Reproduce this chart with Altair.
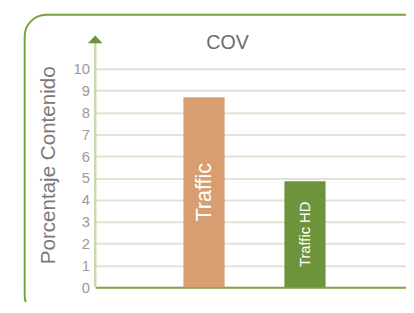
import altair as alt
import pandas as pd

categories = ["Traffic", "Traffic HD"]
values = [8.7, 4.85]
colors = ["#D89E72", "#6E943B"]
y_ticks = list(range(0, 11))
chart_title = "COV"
y_title = "Porcentaje Contenido"

df = pd.DataFrame({"category": categories, "value": values})
one = pd.DataFrame({"k": [0]})

W, H = 317, 223
FONT = "Liberation Sans"

x_scale = alt.Scale(paddingInner=0.592, paddingOuter=0.835, align=0.523)
x_axis = alt.Axis(labels=False, ticks=False, title=None, domainColor="#7FA64C",
                  domainWidth=2, grid=False)
y_scale = alt.Scale(domain=[0, 10], nice=False, zero=True)
y_axis = alt.Axis(values=y_ticks, tickCount=len(y_ticks), title=y_title, domain=False,
                  ticks=False, tickSize=0, labelPadding=6, labelFontSize=15,
                  labelColor="#9a9a9a", labelFont=FONT, labelOverlap=False,
                  gridColor="#E0E4D0", gridWidth=2,
                  titleFontSize=21, titleFont=FONT, titleColor="#7a7a7a",
                  titleFontWeight="normal", titleX=-48, titleY=98, titleAngle=270,
                  titleAlign="center", titleBaseline="middle")

frame = alt.Chart(one).mark_rect(
    fill="transparent", stroke="#77A040", strokeWidth=2, cornerRadius=22
).encode(x=alt.value(-72), y=alt.value(-55), x2=alt.value(360), y2=alt.value(253))

bars = alt.Chart(df).mark_bar().encode(
    x=alt.X("category:N", sort=categories, scale=x_scale, axis=x_axis),
    y=alt.Y("value:Q", scale=y_scale, axis=y_axis),
    color=alt.Color("category:N", scale=alt.Scale(domain=categories, range=colors), legend=None),
)

labels = alt.Chart(df).transform_calculate(mid="datum.value / 2").mark_text(
    angle=270, color="white", font=FONT, baseline="middle", align="center"
).encode(
    x=alt.X("category:N", sort=categories, scale=x_scale, axis=x_axis),
    y=alt.Y("mid:Q", scale=y_scale, axis=y_axis),
    text="category:N",
    size=alt.condition(alt.datum.category == "Traffic", alt.value(22), alt.value(15)),
)

axis_line = alt.Chart(one).mark_rule(color="#C9DAAB", strokeWidth=2.5).encode(
    x=alt.value(0), y=alt.value(-27), y2=alt.value(H)
)

arrow = alt.Chart(one).mark_point(
    shape="M-1,0.53L0,-0.53L1,0.53Z", filled=True, color="#6E943B", size=225, opacity=1
).encode(x=alt.value(0), y=alt.value(-30))

title_txt = alt.Chart(one).mark_text(
    text=chart_title, fontSize=20, font=FONT, color="#6b6b6b", baseline="middle", align="center"
).encode(x=alt.value(135), y=alt.value(-26))

chart = alt.layer(frame, bars, labels, axis_line, arrow, title_txt).properties(
    width=W, height=H,
    autosize=alt.AutoSizeParams(type="none"),
    padding={"left": 89, "top": 59, "right": 0, "bottom": 12},
).configure_view(stroke="transparent")

chart.save("out.html", embed_options={"renderer": "svg", "actions": False})
